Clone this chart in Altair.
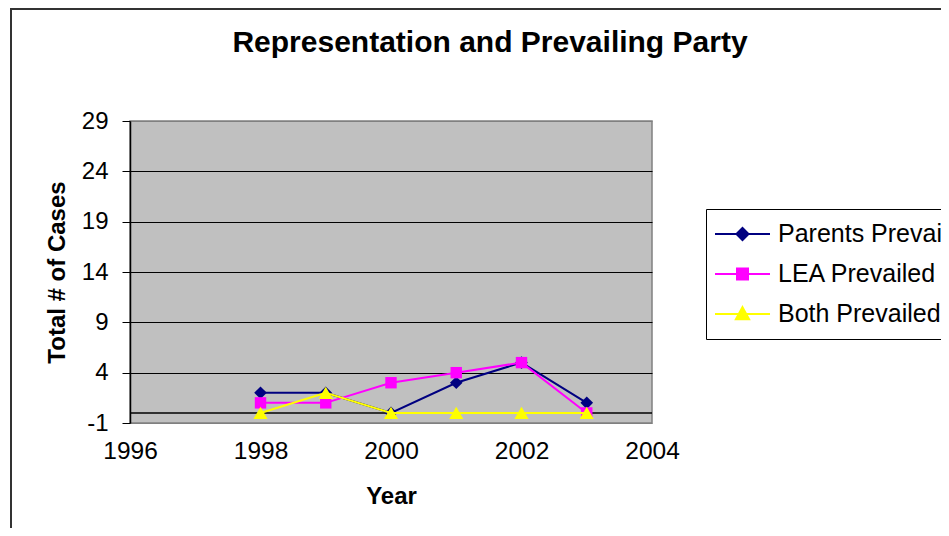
import altair as alt
import pandas as pd

# ---- data ----
years = [1998, 1999, 2000, 2001, 2002, 2003]
parents_prevailed = [2, 2, 0, 3, 5, 1]
lea_prevailed = [1, 1, 3, 4, 5, 0]
both_prevailed = [0, 2, 0, 0, 0, 0]

series_names = ["Parents Prevailed", "LEA Prevailed", "Both Prevailed"]
series_values = [parents_prevailed, lea_prevailed, both_prevailed]
series_colors = ["#000080", "#FF00FF", "#FFFF00"]
series_shapes = ["diamond", "square", "triangle-up"]
series_sizes = [160, 130, 200]
# legend glyphs: a line segment with the marker in the middle
legend_paths = [
    "M-1,0H1M0,-0.22L0.22,0L0,0.22L-0.22,0Z",
    "M-1,0H1M-0.2,-0.2H0.2V0.2H-0.2Z",
    "M-1,0H1M0,-0.25L0.24,0.19H-0.24Z",
]
x_ticks = [1996, 1998, 2000, 2002, 2004]
y_ticks = [-1, 4, 9, 14, 19, 24, 29]

rows = []
for name, vals in zip(series_names, series_values):
    for yr, v in zip(years, vals):
        rows.append({"year": yr, "cases": v, "series": name})
df = pd.DataFrame(rows)

FONT = "Liberation Sans"

x_enc = alt.X(
    "year:Q",
    scale=alt.Scale(domain=[1996, 2004], nice=False, zero=False),
    axis=alt.Axis(
        values=x_ticks, format="d", title="Year", grid=False, domain=False,
        ticks=False, labelFlush=False, labelPadding=16, labelFontSize=24.5,
        labelFont=FONT, labelColor="black", titleFontSize=24, titleFont=FONT,
        titleFontWeight="bold", titleColor="black", titlePadding=22,
    ),
)
y_enc = alt.Y(
    "cases:Q",
    scale=alt.Scale(domain=[-1, 29], nice=False, zero=False),
    axis=alt.Axis(
        values=y_ticks, title="Total # of Cases", grid=True,
        gridColor={"condition": {"test": "datum.value > 28 || datum.value < 0",
                                 "value": "#808080"}, "value": "black"},
        gridWidth=1, domainColor="black", domainWidth=1.5, tickColor="black",
        tickSize=8, labelPadding=14, labelExpr="datum.value + ''",
        labelFontSize=24, labelFont=FONT,
        labelColor="black", titleFontSize=24, titleFont=FONT,
        titleFontWeight="bold", titleColor="black", titlePadding=12,
    ),
)

one_row = alt.Data(values=[{"k": 0}])

frame = alt.Chart(one_row).mark_rect(
    fill="transparent", stroke="#333333", strokeWidth=2
).encode(
    x=alt.value(-119), x2=alt.value(900), y=alt.value(-112), y2=alt.value(600)
)

zero_rule = alt.Chart(one_row).mark_rule(color="black", strokeWidth=1.5).encode(
    y=alt.datum(0)
)

base = alt.Chart(df)
layers = [frame, zero_rule]
for name, col, shp, sz in zip(series_names, series_colors, series_shapes, series_sizes):
    sub = base.transform_filter(alt.datum.series == name)
    layers.append(
        sub.mark_line(strokeWidth=2, color=col).encode(x=x_enc, y=y_enc)
    )
    layers.append(
        sub.mark_point(filled=True, shape=shp, size=sz, opacity=1, color=col).encode(
            x=x_enc, y=y_enc
        )
    )

leg = alt.Legend(
    title=None, orient="none", legendX=576, legendY=88,
    labelFontSize=25, labelFont=FONT, labelColor="black", labelLimit=1000,
    labelOffset=7, symbolSize=3025, symbolStrokeWidth=2, symbolFillColor="black",
    symbolOpacity=1, clipHeight=34, rowPadding=6, padding=8, strokeColor="black",
    fillColor="white",
)
legend_layer = base.transform_filter("false").mark_point(filled=True, opacity=1).encode(
    x=x_enc, y=y_enc,
    fill=alt.Fill("series:N", scale=alt.Scale(domain=series_names, range=series_colors), legend=leg),
    stroke=alt.Stroke("series:N", scale=alt.Scale(domain=series_names, range=series_colors), legend=leg),
    shape=alt.Shape("series:N", scale=alt.Scale(domain=series_names, range=legend_paths), legend=leg),
)
layers.append(legend_layer)

chart = alt.layer(*layers).properties(
    width=522, height=302,
    padding={"left": 122, "top": 113, "right": 289, "bottom": 105},
    autosize=alt.AutoSizeParams(type="none"),
    title=alt.TitleParams(
        "Representation and Prevailing Party", fontSize=30, fontWeight="bold",
        font=FONT, color="black", dx=99, offset=-50, anchor="middle", frame="group",
    ),
).configure_view(fill="#C0C0C0", stroke="#808080", strokeWidth=1.5)

chart.save("out.html", embed_options={"renderer": "svg", "actions": False})
